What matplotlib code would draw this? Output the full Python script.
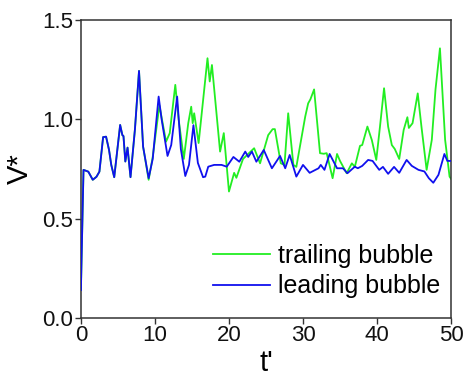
import matplotlib
matplotlib.use("Agg")
import matplotlib.pyplot as plt

plt.rcParams['font.family'] = ['Liberation Sans', 'DejaVu Sans']

# leading bubble velocity history
t_lead = [0.0, 0.35, 1.0, 1.6, 2.1, 2.5, 3.0, 3.4, 3.8, 4.1, 4.5, 5.3, 5.6, 5.75,
          6.0, 6.3, 6.7, 7.3, 7.85, 8.4, 9.15, 9.7, 10.5, 10.9, 11.7, 12.2, 13.0,
          13.5, 14.1, 14.6, 15.2, 15.8, 16.5, 16.8, 17.2, 18.0, 19.0, 19.7, 20.6,
          21.4, 22.2, 22.6, 23.1, 23.7, 24.7, 25.8, 26.9, 27.6, 28.2, 29.1, 30.0,
          30.9, 32.1, 32.4, 32.9, 33.6, 34.6, 35.4, 36.0, 37.0, 37.4, 38.0, 38.8,
          39.4, 40.3, 40.8, 41.5, 42.3, 43.0, 44.0, 44.7, 45.6, 46.4, 47.0, 47.6,
          48.3, 49.1, 49.5, 50.0]
v_lead = [0.14, 0.745, 0.736, 0.695, 0.71, 0.736, 0.91, 0.912, 0.845, 0.77, 0.708,
          0.971, 0.92, 0.915, 0.787, 0.857, 0.708, 0.95, 1.243, 0.862, 0.703, 0.80,
          1.114, 1.0, 0.815, 0.87, 1.114, 0.85, 0.714, 0.77, 0.97, 0.78, 0.708,
          0.711, 0.761, 0.77, 0.77, 0.761, 0.81, 0.786, 0.837, 0.81, 0.837, 0.786,
          0.845, 0.753, 0.815, 0.753, 0.82, 0.711, 0.77, 0.73, 0.753, 0.77, 0.745,
          0.825, 0.753, 0.753, 0.728, 0.761, 0.753, 0.765, 0.795, 0.79, 0.745,
          0.76, 0.725, 0.76, 0.73, 0.795, 0.765, 0.745, 0.737, 0.703, 0.68, 0.72,
          0.825, 0.79, 0.79]

# trailing bubble velocity history
t_trail = [0.0, 0.35, 1.0, 1.6, 2.1, 2.5, 3.0, 3.4, 3.8, 4.1, 4.5, 5.3, 5.6, 5.75,
           6.0, 6.3, 6.7, 7.3, 7.85, 8.4, 9.15, 9.7, 10.6, 11.5, 12.0, 12.75, 13.2,
           13.9, 14.5, 14.9, 15.1, 15.3, 15.9, 17.1, 17.4, 17.7, 18.8, 19.3, 20.0,
           20.7, 21.0, 21.9, 23.4, 24.2, 25.3, 25.9, 26.2, 27.0, 27.5, 28.0, 28.7,
           29.1, 30.3, 30.7, 31.0, 31.5, 32.3, 32.8, 33.2, 34.0, 34.6, 35.0, 35.9,
           36.6, 37.0, 37.7, 38.0, 38.7, 39.3, 39.9, 40.4, 40.95, 41.5, 42.0, 42.4,
           43.0, 43.6, 44.1, 44.3, 44.8, 45.5, 46.0, 46.7, 47.4, 47.9, 48.5, 49.2,
           49.8, 50.0]
v_trail = [0.14, 0.745, 0.736, 0.695, 0.71, 0.736, 0.91, 0.912, 0.845, 0.77, 0.708,
           0.971, 0.92, 0.915, 0.787, 0.857, 0.708, 0.95, 1.243, 0.862, 0.695, 0.81,
           1.07, 0.887, 0.93, 1.173, 1.0, 0.80, 0.98, 1.063, 0.98, 1.03, 0.88,
           1.307, 1.19, 1.273, 0.837, 0.93, 0.636, 0.73, 0.705, 0.80, 0.854, 0.778,
           0.92, 0.95, 0.95, 0.778, 0.77, 1.03, 0.77, 0.76, 1.013, 1.08, 1.10, 1.15,
           0.829, 0.826, 0.829, 0.703, 0.825, 0.79, 0.728, 0.778, 0.76, 0.866,
           0.87, 0.963, 0.895, 0.795, 0.963, 1.156, 0.963, 0.87, 0.85, 0.80, 0.946,
           1.01, 0.956, 0.98, 1.13, 0.963, 0.745, 0.896, 1.15, 1.357, 0.896, 0.711,
           0.70]

x_ticks = [0, 10, 20, 30, 40, 50]
y_ticks = [0.0, 0.5, 1.0, 1.5]

fig = plt.figure(figsize=(4.65, 3.9), dpi=100)
ax = fig.add_axes([0.174, 0.185, 0.796, 0.764])

ax.plot(t_trail, v_trail, color='#22ee22', lw=1.3, label='trailing bubble',
        solid_joinstyle='round', zorder=2)
ax.plot(t_lead, v_lead, color='#1010ee', lw=1.3, label='leading bubble',
        solid_joinstyle='round', zorder=3)

ax.set_xlim(0, 50)
ax.set_ylim(0, 1.5)
ax.set_xticks(x_ticks)
ax.set_yticks(y_ticks)
ax.set_yticklabels([f'{v:.1f}' for v in y_ticks])
ax.tick_params(direction='out', length=4.5, width=1, labelsize=16, pad=1,
               color='#333333', labelcolor='#111111')
for s in ax.spines.values():
    s.set_color('#333333')
    s.set_linewidth(1.1)

ax.set_xlabel("t'", fontsize=21, labelpad=2)
ax.set_ylabel('V*', fontsize=21, labelpad=6)

ax.legend(loc='lower right', bbox_to_anchor=(0.97, 0.065), frameon=False,
          fontsize=18, handlelength=2.3, handletextpad=0.3, labelspacing=0.25,
          borderaxespad=0, borderpad=0)

fig.savefig('out.png', dpi=100, facecolor='white')
